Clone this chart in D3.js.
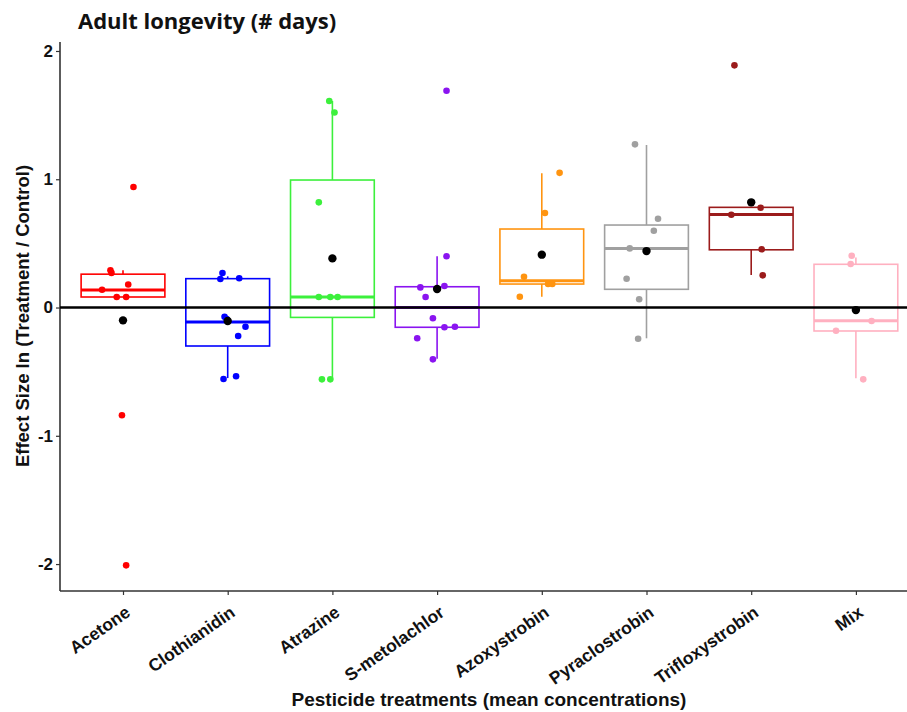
<!DOCTYPE html>
<html><head><meta charset="utf-8">
<script src="https://cdn.jsdelivr.net/npm/d3@7"></script>
<style>body{margin:0;background:#fff}svg{display:block}</style>
</head><body>
<script>
const categories = ["Acetone","Clothianidin","Atrazine","S-metolachlor","Azoxystrobin","Pyraclostrobin","Trifloxystrobin","Mix"];
const colors = ["#FF0000","#0000FF","#3CF03C","#8A14F0","#FF9410","#A0A0A0","#9B1B1B","#FFB0C0"];
// box stats: [lowerWhisker, q1, median, q3, upperWhisker]
const boxStats = [
  [0.082, 0.082, 0.136, 0.26, 0.29],
  [-0.55, -0.30, -0.113, 0.225, 0.243],
  [-0.56, -0.077, 0.082, 0.994, 1.61],
  [-0.40, -0.154, 0.0, 0.162, 0.40],
  [0.084, 0.183, 0.209, 0.612, 1.046],
  [-0.24, 0.142, 0.461, 0.643, 1.267],
  [0.253, 0.45, 0.726, 0.781, 0.781],
  [-0.552, -0.183, -0.103, 0.337, 0.39]
];
const means = [-0.10, -0.105, 0.383, 0.144, 0.412, 0.44, 0.82, -0.02];
// jittered points: [value, horizontal offset in category units]
const points = [
  [[0.94,0.10],[0.29,-0.12],[0.27,-0.11],[0.139,-0.20],[0.18,0.05],[0.082,-0.06],[0.082,0.03],[-0.84,-0.01],[-2.01,0.03]],
  [[0.269,-0.05],[0.222,-0.07],[0.228,0.11],[-0.072,-0.03],[-0.09,-0.01],[-0.15,0.17],[-0.222,0.10],[-0.557,-0.04],[-0.536,0.08]],
  [[1.61,-0.03],[1.52,0.02],[0.82,-0.13],[0.082,-0.13],[0.082,-0.02],[0.082,0.05],[-0.56,-0.10],[-0.56,-0.02]],
  [[1.69,0.09],[0.40,0.09],[0.157,-0.16],[0.168,0.07],[0.082,-0.11],[-0.084,-0.04],[-0.154,0.07],[-0.15,0.17],[-0.24,-0.19],[-0.404,-0.04]],
  [[1.05,0.17],[0.737,0.03],[0.24,-0.17],[0.183,0.06],[0.183,0.10],[0.084,-0.21]],
  [[1.272,-0.11],[0.692,0.11],[0.599,0.07],[0.461,-0.16],[0.224,-0.19],[0.064,-0.07],[-0.243,-0.08]],
  [[1.888,-0.16],[0.778,0.09],[0.723,-0.19],[0.454,0.10],[0.251,0.11]],
  [[0.404,-0.04],[0.339,-0.05],[-0.105,0.15],[-0.181,-0.19],[-0.56,0.07]]
];
const yTicks = [-2,-1,0,1,2];
const yTickLabels = ["-2","-1","0","1","2"];

const W = 907, H = 712;
const svg = d3.select("body").append("svg").attr("width", W).attr("height", H);
const left = 60, plotTop = 42, plotBottom = 591;
const x = d3.scalePoint().domain(categories).range([123, 123 + 104.7*7]);
const step = x.step();
const y = d3.scaleLinear().domain([-2.21, 2.07]).range([plotBottom, plotTop]);
const boxW = step*0.8;
const font = "Liberation Sans, Arial, sans-serif";

// title
svg.append("text").attr("x", 78).attr("y", 29)
  .attr("font-family","Open Sans, Liberation Sans, sans-serif").attr("font-weight","bold")
  .attr("font-size", 22).attr("fill","#111").text("Adult longevity (# days)");

// axes
const yAxis = svg.append("g").attr("transform",`translate(${left},0)`)
  .call(d3.axisLeft(y).tickValues(yTicks).tickSize(4).tickFormat((d,i) => yTickLabels[i]));
yAxis.select(".domain").attr("d", `M0,${plotTop}V${plotBottom}`).attr("stroke","#333").attr("stroke-width",1.6);
yAxis.selectAll(".tick line").attr("stroke","#333").attr("stroke-width",1.2);
yAxis.selectAll(".tick text").attr("font-family",font)
  .attr("font-weight","bold").attr("font-size",17).attr("fill","#111").attr("x",-7);

const xAxis = svg.append("g").attr("transform",`translate(0,${plotBottom})`)
  .call(d3.axisBottom(x).tickSize(4));
xAxis.select(".domain").attr("d", `M${left},0H${W}`).attr("stroke","#333").attr("stroke-width",1.6);
xAxis.selectAll(".tick line").attr("stroke","#333").attr("stroke-width",1.2);
xAxis.selectAll(".tick text")
  .attr("font-family",font).attr("font-weight","bold")
  .attr("font-size",17.5).attr("fill","#111")
  .attr("text-anchor","end").attr("y",0).attr("dy",0)
  .attr("transform","translate(8,24) rotate(-35)");

// axis titles
svg.append("text").attr("x", 489).attr("y", 706).attr("text-anchor","middle")
  .attr("font-family",font).attr("font-weight","bold")
  .attr("font-size",19).attr("fill","#111").text("Pesticide treatments (mean concentrations)");
svg.append("text").attr("transform",`translate(29,316) rotate(-90)`)
  .attr("text-anchor","middle")
  .attr("font-family",font).attr("font-weight","bold")
  .attr("font-size",18.5).attr("fill","#111").text("Effect Size ln (Treatment / Control)");

// boxes
const g = svg.append("g");
categories.forEach((c,i) => {
  const cx = x(c), s = boxStats[i], col = colors[i];
  const bg = g.append("g").attr("stroke", col).attr("fill","none").attr("stroke-width",1.6);
  bg.append("line").attr("x1",cx).attr("x2",cx).attr("y1",y(s[3])).attr("y2",y(s[4]));
  bg.append("line").attr("x1",cx).attr("x2",cx).attr("y1",y(s[1])).attr("y2",y(s[0]));
  bg.append("rect").attr("x",cx-boxW/2).attr("width",boxW)
    .attr("y",y(s[3])).attr("height",y(s[1])-y(s[3]));
  bg.append("line").attr("x1",cx-boxW/2).attr("x2",cx+boxW/2)
    .attr("y1",y(s[2])).attr("y2",y(s[2])).attr("stroke-width",3);
});

// zero line
svg.append("line").attr("x1",left).attr("x2",W).attr("y1",y(0)).attr("y2",y(0))
  .attr("stroke","#000").attr("stroke-width",2.6);

// points
categories.forEach((c,i) => {
  g.selectAll(null).data(points[i]).enter().append("circle")
    .attr("cx", d => x(c) + d[1]*step).attr("cy", d => y(d[0]))
    .attr("r",3.3).attr("fill",colors[i]);
});
svg.append("g").selectAll("circle").data(categories).enter().append("circle")
  .attr("cx", c => x(c)).attr("cy",(c,i)=>y(means[i])).attr("r",4.2).attr("fill","#000");
</script>
</body></html>
